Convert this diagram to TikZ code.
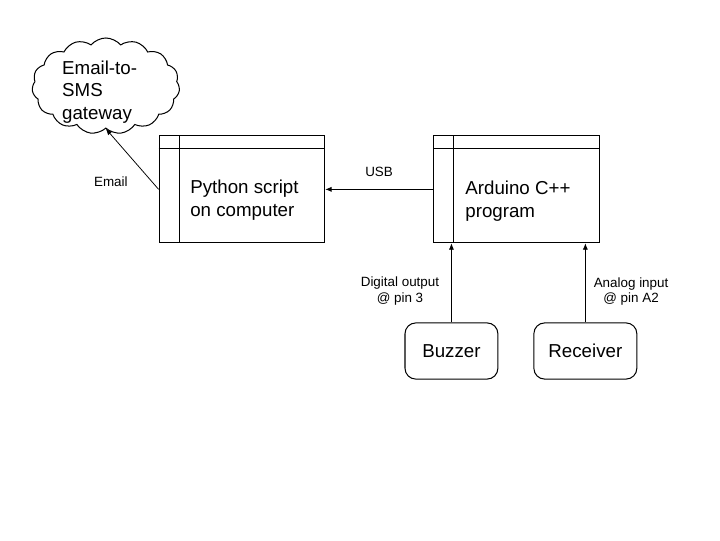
\documentclass[tikz,border=0pt]{standalone}
\usepackage{fontspec}
\setmainfont{Liberation Sans}
\usetikzlibrary{shapes.symbols}
\usetikzlibrary{arrows.meta}

\begin{document}
\begin{tikzpicture}[
    box/.style={rectangle, draw, line width=0.8pt, minimum width=4.6cm, minimum height=2.97cm},
    part/.style={rectangle, draw, rounded corners=0.3cm, line width=0.8pt, minimum height=1.56cm, font=\fontsize{14.8}{17.5}\selectfont},
    big/.style={align=left, inner sep=0pt, font=\fontsize{14.8}{17.8}\selectfont},
    small/.style={align=center, inner sep=0pt, font=\fontsize{10.6}{12.5}\selectfont},
    link/.style={line width=0.6pt, -{Latex[length=5pt,width=4pt]}}
]
        \useasboundingbox (0,0) rectangle (20,15);

        % the two programs
        \node[box] (py) at (6.72,9.74) {};
        \node[box] (ard) at (14.35,9.74) {};
        \draw[line width=0.8pt] ([yshift=-0.36cm]py.north west) -- ([yshift=-0.36cm]py.north east);
        \draw[line width=0.8pt] ([xshift=0.58cm]py.north west) -- ([xshift=0.58cm]py.south west);
        \draw[line width=0.8pt] ([yshift=-0.36cm]ard.north west) -- ([yshift=-0.36cm]ard.north east);
        \draw[line width=0.8pt] ([xshift=0.56cm]ard.north west) -- ([xshift=0.56cm]ard.south west);
        \node[big, anchor=west] (pytext) at (5.28,9.44) {Python script\\on computer};
        \node[big, anchor=west] (ardtext) at (12.92,9.41) {Arduino C++\\program};

        % gateway cloud
        \node[cloud, draw, line width=0.8pt, cloud puffs=15, cloud puff arc=100, minimum width=4.1cm, minimum height=2.67cm] (gw) at (2.94,12.61) {};
        \node[big, anchor=west] (gwtext) at (1.72,12.44) {Email-to-\\SMS\\gateway};

        % hardware
        \node[part, minimum width=2.58cm] (buzz) at (12.54,5.25) {Buzzer};
        \node[part, minimum width=2.86cm] (recv) at (16.26,5.25) {Receiver};

        % connections
        \draw[link] (py.west) -- (gw.south);
        \draw[link] (ard.west) -- (py.east);
        \draw[link] (buzz.north) -- (buzz.north |- ard.south);
        \draw[link] (recv.north) -- (recv.north |- ard.south);

        \node[small] (lemail) at (3.08,9.95) {Email};
        \node[small] (lusb) at (10.53,10.23) {USB};
        \node[small] (ldig) at (11.11,6.92) {Digital output\\@ pin 3};
        \node[small] (lana) at (17.53,6.9) {Analog input\\@ pin A2};
    \end{tikzpicture}
\end{document}
